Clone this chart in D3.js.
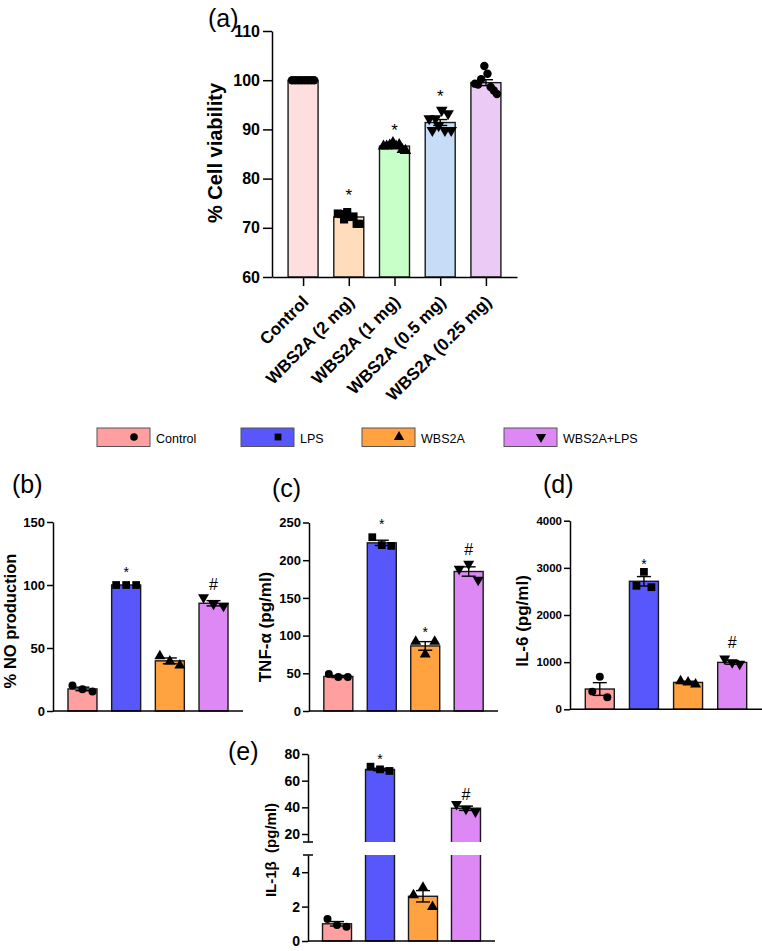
<!DOCTYPE html>
<html><head><meta charset="utf-8">
<script src="https://cdn.jsdelivr.net/npm/d3@7"></script>
<style>
body{margin:0;background:#fff}
svg{display:block}
text{font-family:"Liberation Sans",Arial,Helvetica,sans-serif}
</style>
</head><body>
<svg id="chart" width="762" height="951"></svg>
<script>
// ================= DATA =================
// Panel (a) cell viability
const viabilityGroups = ["Control", "WBS2A (2 mg)", "WBS2A (1 mg)", "WBS2A (0.5 mg)", "WBS2A (0.25 mg)"];
const viabilityMean = [100, 72.2, 86.6, 91.4, 99.5];
const viabilitySEM = [0, 0.35, 0.2, 0.6, 0.6];
const viabilityPoints = [
  [100, 100, 100, 100, 100, 100, 100, 100],
  [72.9, 72.8, 71.7, 73.2, 72.2, 72.3, 70.8, 70.8],
  [86.6, 86.6, 86.8, 87.3, 86.6, 86.9, 85.9, 85.7],
  [92.2, 89.8, 92.2, 90.8, 93.9, 89.8, 93.2, 89.8],
  [99.3, 99.1, 100.2, 102.9, 101.3, 98.6, 97.9, 97.2]
];
const viabilityStars = ["", "*", "*", "*", ""];
const viabilityStarAt = [null, 77.5, 90.7, 97.7, null];
const viabilityTicks = [60, 70, 80, 90, 100, 110];
const viabilityColors = ["#FDDFDF", "#FFDDBC", "#C8FEC8", "#C7DCF6", "#EBCBF6"];
const viabilityMarkers = ["circle", "square", "triangle", "down", "circle"];

// Panels (b)-(e) groups
const groups = ["Control", "LPS", "WBS2A", "WBS2A+LPS"];
const groupColors = ["#FF9F9F", "#5757FB", "#FFA23F", "#DD88F5"];
const groupMarkers = ["circle", "square", "triangle", "down"];

// (b) % NO production
const noMean = [17.5, 100, 39.8, 85.5];
const noSEM = [1.4, 0, 2.3, 2.1];
const noPoints = [[20.2, 17.2, 15.4], [100, 100, 100], [43.5, 39.5, 36.2], [90.2, 85.0, 83.3]];
const noMarks = ["", "*", "", "#"];
const noMarkAt = [null, 113, null, 101];
const noTicks = [0, 50, 100, 150];

// (c) TNF-alpha
const tnfMean = [45.8, 223, 86.3, 185];
const tnfSEM = [1.4, 3.5, 5.7, 6.2];
const tnfPoints = [[49, 45, 45], [230.5, 220, 219], [92, 75, 92], [188.5, 195, 174]];
const tnfMarks = ["", "*", "*", "#"];
const tnfMarkAt = [null, 253, 109, 215];
const tnfTicks = [0, 50, 100, 150, 200, 250];

// (d) IL-6
const il6Mean = [430, 2715, 570, 995];
const il6SEM = [135, 100, 25, 38];
const il6Points = [[375, 690, 255], [2620, 2915, 2590], [600, 572, 530], [1075, 995, 960]];
const il6Marks = ["", "*", "", "#"];
const il6MarkAt = [null, 3170, null, 1430];
const il6Ticks = [0, 1000, 2000, 3000, 4000];

// (e) IL-1beta (broken axis)
const il1Mean = [1.0, 68.4, 2.6, 39.3];
const il1SEM = [0.13, 0.9, 0.33, 1.6];
const il1Points = [[1.28, 0.93, 0.83], [70.5, 68.5, 67.3], [2.67, 3.1, 1.99], [42.3, 38.8, 36.8]];
const il1Marks = ["", "*", "", "#"];
const il1MarkAt = [null, 79, null, 49.5];
const il1TicksLow = [0, 2, 4];
const il1TicksHigh = [20, 40, 60, 80];

// ================= DRAWING =================
const FONT = '"Liberation Sans", Arial, Helvetica, sans-serif';
const svg = d3.select("#chart");
const fmt = d3.format("d");

function symPath(kind, size) {
  const t = {circle: d3.symbolCircle, square: d3.symbolSquare, triangle: d3.symbolTriangle, down: d3.symbolTriangle}[kind];
  return d3.symbol().type(t).size(size)();
}

function styleAxis(sel, fs) {
  sel.attr("font-family", null).attr("font-size", null);
  sel.select(".domain").attr("stroke", "#000").attr("stroke-width", 1.5);
  sel.selectAll(".tick line").attr("stroke", "#000").attr("stroke-width", 1.5);
  sel.selectAll(".tick text").attr("fill", "#000")
    .style("font-size", fs + "px").style("font-weight", "bold").style("font-family", FONT);
}

// generic bar panel; yFn maps value -> pixel
function drawBars(g, cfg) {
  const {x, yFn, base, means, sem, points, colors, markers, barW, spread, msize, capW} = cfg;
  const cats = x.domain();
  cats.forEach((c, i) => {
    const cx = x(c);
    if (cfg.broken) {
      cfg.broken(g, cx - barW / 2, barW, means[i], colors[i]);
    } else {
      g.append("rect").attr("x", cx - barW / 2).attr("y", yFn(means[i]))
        .attr("width", barW).attr("height", base - yFn(means[i]))
        .attr("fill", colors[i]).attr("stroke", "#1a1a1a").attr("stroke-width", 1.4);
    }
  });
  cats.forEach((c, i) => {
    const pts = points[i], n = pts.length;
    pts.forEach((v, j) => {
      const off = n > 1 ? (j - (n - 1) / 2) * (spread / (n - 1)) : 0;
      g.append("path").attr("d", symPath(markers[i], msize[markers[i]]))
        .attr("transform", `translate(${x(c) + off},${yFn(v)})` + (markers[i] === "down" ? " rotate(180)" : ""))
        .attr("fill", "#000");
    });
  });
  cats.forEach((c, i) => {
    if (!sem[i]) return;
    const cx = x(c), y1 = yFn(means[i] + sem[i]), y0 = yFn(means[i] - sem[i]);
    const e = g.append("g").attr("stroke", "#000").attr("stroke-width", 1.4);
    e.append("line").attr("x1", cx).attr("x2", cx).attr("y1", y0).attr("y2", y1);
    e.append("line").attr("x1", cx - capW / 2).attr("x2", cx + capW / 2).attr("y1", y1).attr("y2", y1);
    e.append("line").attr("x1", cx - capW / 2).attr("x2", cx + capW / 2).attr("y1", y0).attr("y2", y0);
  });
}

function drawMarks(g, x, yFn, marks, at, fsStar, fsHash) {
  x.domain().forEach((c, i) => {
    if (!marks[i]) return;
    const star = marks[i] === "*";
    g.append("text").attr("x", x(c)).attr("y", yFn(at[i]))
      .attr("dy", star ? "0.62em" : "0.36em")
      .attr("text-anchor", "middle").attr("fill", "#000")
      .style("font-size", (star ? fsStar : fsHash) + "px")
      .text(marks[i]);
  });
}

function yTitle(g, x, y, txt, fs) {
  g.append("text").attr("transform", `translate(${x},${y}) rotate(-90)`)
    .attr("text-anchor", "middle").attr("dy", "0.35em")
    .style("font-size", fs + "px").style("font-weight", "bold").style("white-space", "pre")
    .attr("fill", "#000").text(txt);
}

function panelLetter(g, x, y, txt) {
  g.append("text").attr("x", x).attr("y", y).style("font-size", "25px").attr("fill", "#000").text(txt);
}

const msA = {circle: 56, square: 66, triangle: 58, down: 58};
const msB = {circle: 50, square: 60, triangle: 52, down: 52};

// ---------- Panel (a) ----------
(function () {
  const g = svg.append("g");
  const y = d3.scaleLinear().domain([60, 110]).range([277, 31]);
  const x = d3.scalePoint().domain(viabilityGroups).range([272, 517]).padding(0.68);
  drawBars(g, {x, yFn: y, base: y(60), means: viabilityMean, sem: viabilitySEM, points: viabilityPoints,
    colors: viabilityColors, markers: viabilityMarkers, barW: 30, spread: 22, msize: msA, capW: 14});
  drawMarks(g, x, y, viabilityStars, viabilityStarAt, 17, 17);
  const ya = g.append("g").attr("transform", "translate(272,0)")
    .call(d3.axisLeft(y).tickValues(viabilityTicks).tickFormat(fmt).tickSize(9).tickPadding(3).tickSizeOuter(0));
  styleAxis(ya, 16);
  const xa = g.append("g").attr("transform", "translate(0,277)")
    .call(d3.axisBottom(x).tickSize(9).tickSizeOuter(0));
  styleAxis(xa, 17);
  xa.selectAll(".tick text").attr("x", 0).attr("y", 0).attr("dy", 0)
    .attr("transform", "translate(6,26) rotate(-45)").style("text-anchor", "end");
  yTitle(g, 215, 153, "% Cell viability", 20);
  panelLetter(g, 208, 27, "(a)");
})();

// ---------- Legend ----------
(function () {
  const g = svg.append("g");
  const boxX = [97, 241, 362, 504];
  groups.forEach((name, i) => {
    g.append("rect").attr("x", boxX[i]).attr("y", 428).attr("width", 53).attr("height", 18.5)
      .attr("fill", groupColors[i]).attr("stroke", "#555").attr("stroke-width", 1);
    g.append("path").attr("d", symPath(groupMarkers[i], 46))
      .attr("transform", `translate(${boxX[i] + 37},437)` + (groupMarkers[i] === "down" ? " rotate(180)" : ""))
      .attr("fill", "#000");
    g.append("text").attr("x", boxX[i] + 59).attr("y", 442.5).style("font-size", "12.5px")
      .attr("fill", "#000").text(name);
  });
})();

// ---------- Panels (b)-(d) ----------
function simplePanel(opt) {
  const g = svg.append("g");
  const y = d3.scaleLinear().domain([0, opt.ymax]).range([opt.y0, opt.y1]);
  const x = d3.scalePoint().domain(groups).range([opt.x0, opt.x1]).padding(0.675);
  drawBars(g, {x, yFn: y, base: opt.y0, means: opt.means, sem: opt.sem, points: opt.points,
    colors: groupColors, markers: groupMarkers, barW: 29, spread: opt.spread, msize: msB, capW: 14});
  drawMarks(g, x, y, opt.marks, opt.markAt, 14, 16);
  const ya = g.append("g").attr("transform", `translate(${opt.x0},0)`)
    .call(d3.axisLeft(y).tickValues(opt.ticks).tickFormat(fmt).tickSize(6).tickPadding(2).tickSizeOuter(0));
  styleAxis(ya, opt.tickFs);
  g.append("line").attr("x1", opt.x0).attr("x2", opt.x1).attr("y1", opt.y0).attr("y2", opt.y0)
    .attr("stroke", "#000").attr("stroke-width", 1.5);
  yTitle(g, opt.tx, opt.ty, opt.title, opt.titleFs);
  panelLetter(g, opt.lx, opt.ly, opt.letter);
}

simplePanel({ymax: 150, y0: 711, y1: 522, x0: 53, x1: 243, means: noMean, sem: noSEM, points: noPoints,
  marks: noMarks, markAt: noMarkAt, ticks: noTicks, tickFs: 13, spread: 20,
  title: "% NO production", titleFs: 16.5, tx: 10, ty: 621, letter: "(b)", lx: 12, ly: 493});

simplePanel({ymax: 250, y0: 711, y1: 522.5, x0: 309, x1: 498, means: tnfMean, sem: tnfSEM, points: tnfPoints,
  marks: tnfMarks, markAt: tnfMarkAt, ticks: tnfTicks, tickFs: 13, spread: 19,
  title: "TNF-α (pg/ml)", titleFs: 17, tx: 265, ty: 627, letter: "(c)", lx: 272, ly: 497});

simplePanel({ymax: 4000, y0: 709.3, y1: 520.7, x0: 570, x1: 762, means: il6Mean, sem: il6SEM, points: il6Points,
  marks: il6Marks, markAt: il6MarkAt, ticks: il6Ticks, tickFs: 11.5, spread: 15,
  title: "IL-6 (pg/ml)", titleFs: 17, tx: 522, ty: 621, letter: "(d)", lx: 543, ly: 493});

// ---------- Panel (e) broken axis ----------
(function () {
  const g = svg.append("g");
  const yLow = d3.scaleLinear().domain([0, 5]).range([941, 855]);
  const yHigh = d3.scaleLinear().domain([14, 80]).range([842, 754]);
  const yFn = v => (v <= 5 ? yLow(v) : yHigh(v));
  const x = d3.scalePoint().domain(groups).range([308, 495]).padding(0.675);
  const broken = (gg, bx, bw, v, col) => {
    if (v <= 5) {
      gg.append("rect").attr("x", bx).attr("y", yLow(v)).attr("width", bw).attr("height", 941 - yLow(v))
        .attr("fill", col).attr("stroke", "#1a1a1a").attr("stroke-width", 1.4);
    } else {
      gg.append("rect").attr("x", bx).attr("y", 855).attr("width", bw).attr("height", 941 - 855).attr("fill", col);
      gg.append("path").attr("d", `M${bx},855V941H${bx + bw}V855`).attr("fill", "none")
        .attr("stroke", "#1a1a1a").attr("stroke-width", 1.4);
      gg.append("rect").attr("x", bx).attr("y", yHigh(v)).attr("width", bw).attr("height", 842 - yHigh(v)).attr("fill", col);
      gg.append("path").attr("d", `M${bx},842V${yHigh(v)}H${bx + bw}V842`).attr("fill", "none")
        .attr("stroke", "#1a1a1a").attr("stroke-width", 1.4);
    }
  };
  drawBars(g, {x, yFn, base: 941, means: il1Mean, sem: il1SEM, points: il1Points, colors: groupColors,
    markers: groupMarkers, barW: 29, spread: 19, msize: msB, capW: 14, broken});
  drawMarks(g, x, yFn, il1Marks, il1MarkAt, 14, 16);
  const yl = g.append("g").attr("transform", "translate(308,0)")
    .call(d3.axisLeft(yLow).tickValues(il1TicksLow).tickFormat(fmt).tickSize(6).tickPadding(2).tickSizeOuter(0));
  styleAxis(yl, 14);
  const yh = g.append("g").attr("transform", "translate(308,0)")
    .call(d3.axisLeft(yHigh).tickValues(il1TicksHigh).tickFormat(fmt).tickSize(6).tickPadding(2).tickSizeOuter(0));
  styleAxis(yh, 14);
  [842, 855].forEach(yy => g.append("line").attr("x1", 303).attr("x2", 313).attr("y1", yy).attr("y2", yy)
    .attr("stroke", "#000").attr("stroke-width", 1.5));
  g.append("line").attr("x1", 308).attr("x2", 495).attr("y1", 941).attr("y2", 941)
    .attr("stroke", "#000").attr("stroke-width", 1.5);
  yTitle(g, 271, 850, "IL-1β  (pg/ml)", 15);
  panelLetter(g, 228, 760, "(e)");
})();
</script>
</body></html>
